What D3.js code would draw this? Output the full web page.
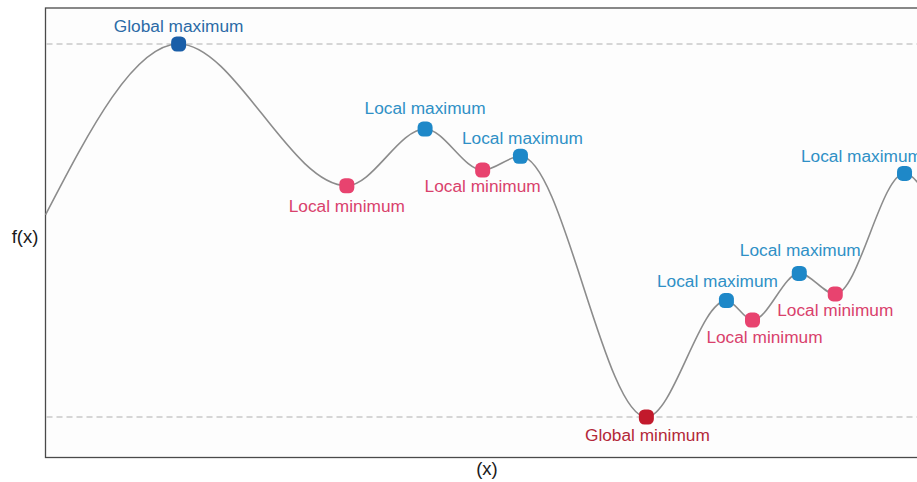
<!DOCTYPE html>
<html><head><meta charset="utf-8">
<script src="https://cdn.jsdelivr.net/npm/d3@7"></script>
<style>
html,body{margin:0;padding:0;background:#fff;overflow:hidden;}
svg{display:block;font-family:"Liberation Sans",Arial,sans-serif;}
</style></head>
<body>
<svg id="chart" width="917" height="482"></svg>
<script>
// Data: x positions and f(x) values of the curve's key points
const xs     = [0, 1.48, 3.35, 4.22, 4.86, 5.28, 6.68, 7.57, 7.86, 8.38, 8.78, 9.55, 10];
const fx     = [5.42, 10, 6.2, 7.72, 6.62, 6.99, 0, 3.12, 2.6, 3.85, 3.3, 6.53, 4.8];
const kinds  = ["", "gmax", "lmin", "lmax", "lmin", "lmax", "gmin", "lmax", "lmin", "lmax", "lmin", "lmax", ""];
const labels = ["", "Global maximum", "Local minimum", "Local maximum", "Local minimum", "Local maximum",
                "Global minimum", "Local maximum", "Local minimum", "Local maximum", "Local minimum", "Local maximum", ""];
// Layout: label offsets relative to the marker (px)
const labelDx = [0, 0, 0, 0, 0, 2, 1, -9, 12, 1, 0, -43, 0];
const labelDy = [0, -17, 22, -20, 17, -17, 19, -18, 18, -22, 18, -16, 0];

const colors = {gmax:"#1a5ea8", lmax:"#1e88c8", lmin:"#e8436f", gmin:"#c21a2c"};
const textColors = {gmax:"#2b6aa6", lmax:"#2f90c6", lmin:"#d9416c", gmin:"#b32838"};

const svg = d3.select("#chart");
const pLeft = 45.5, pTop = 8, pBottom = 457.5, pRight = 945;

const x = d3.scaleLinear().domain([0, 10]).range([pLeft, pRight]);
const y = d3.scaleLinear().domain([0, 10]).range([417, 44]);

const pts = xs.map((v,i)=>({x:v, f:fx[i], kind:kinds[i], label:labels[i], dx:labelDx[i], dy:labelDy[i]}));

// panel background & border
svg.append("rect").attr("x", pLeft).attr("y", pTop).attr("width", pRight-pLeft).attr("height", pBottom-pTop)
  .attr("fill", "#fdfdfd").attr("stroke", "#4a4a4a").attr("stroke-width", 1.3);

// dashed reference lines at global max / min
const gmaxV = d3.max(fx), gminV = d3.min(fx);
[gmaxV, gminV].forEach(v=>{
  svg.append("line").attr("x1", pLeft+1).attr("x2", pRight).attr("y1", y(v)).attr("y2", y(v))
    .attr("stroke", "#b0b0b0").attr("stroke-width", 1.2).attr("stroke-dasharray", "6,4");
});

// curve
const line = d3.line().x(d=>x(d.x)).y(d=>y(d.f)).curve(d3.curveMonotoneX);
svg.append("path").datum(pts).attr("d", line).attr("fill", "none")
  .attr("stroke", "#8c8c8c").attr("stroke-width", 1.6);

// markers
const marks = pts.filter(d=>d.kind);
svg.selectAll("rect.m").data(marks).join("rect").attr("class","m")
  .attr("x", d=>x(d.x)-7.5).attr("y", d=>y(d.f)-7.5).attr("width", 15).attr("height", 15)
  .attr("rx", 5.5).attr("fill", d=>colors[d.kind]);

// labels
svg.selectAll("text.l").data(marks).join("text").attr("class","l")
  .attr("x", d=>x(d.x)+d.dx).attr("y", d=>y(d.f)+d.dy)
  .attr("text-anchor", "middle").attr("dominant-baseline", "middle")
  .attr("font-size", 17.3).attr("fill", d=>textColors[d.kind]).text(d=>d.label);

// axis titles
svg.append("text").attr("x", 25).attr("y", 238).attr("text-anchor","middle").attr("dominant-baseline","middle")
  .attr("font-size", 18.5).attr("fill", "#1a1a1a").text("f(x)");
svg.append("text").attr("x", 487).attr("y", 470).attr("text-anchor","middle").attr("dominant-baseline","middle")
  .attr("font-size", 18.5).attr("fill", "#1a1a1a").text("(x)");
</script>
</body></html>
